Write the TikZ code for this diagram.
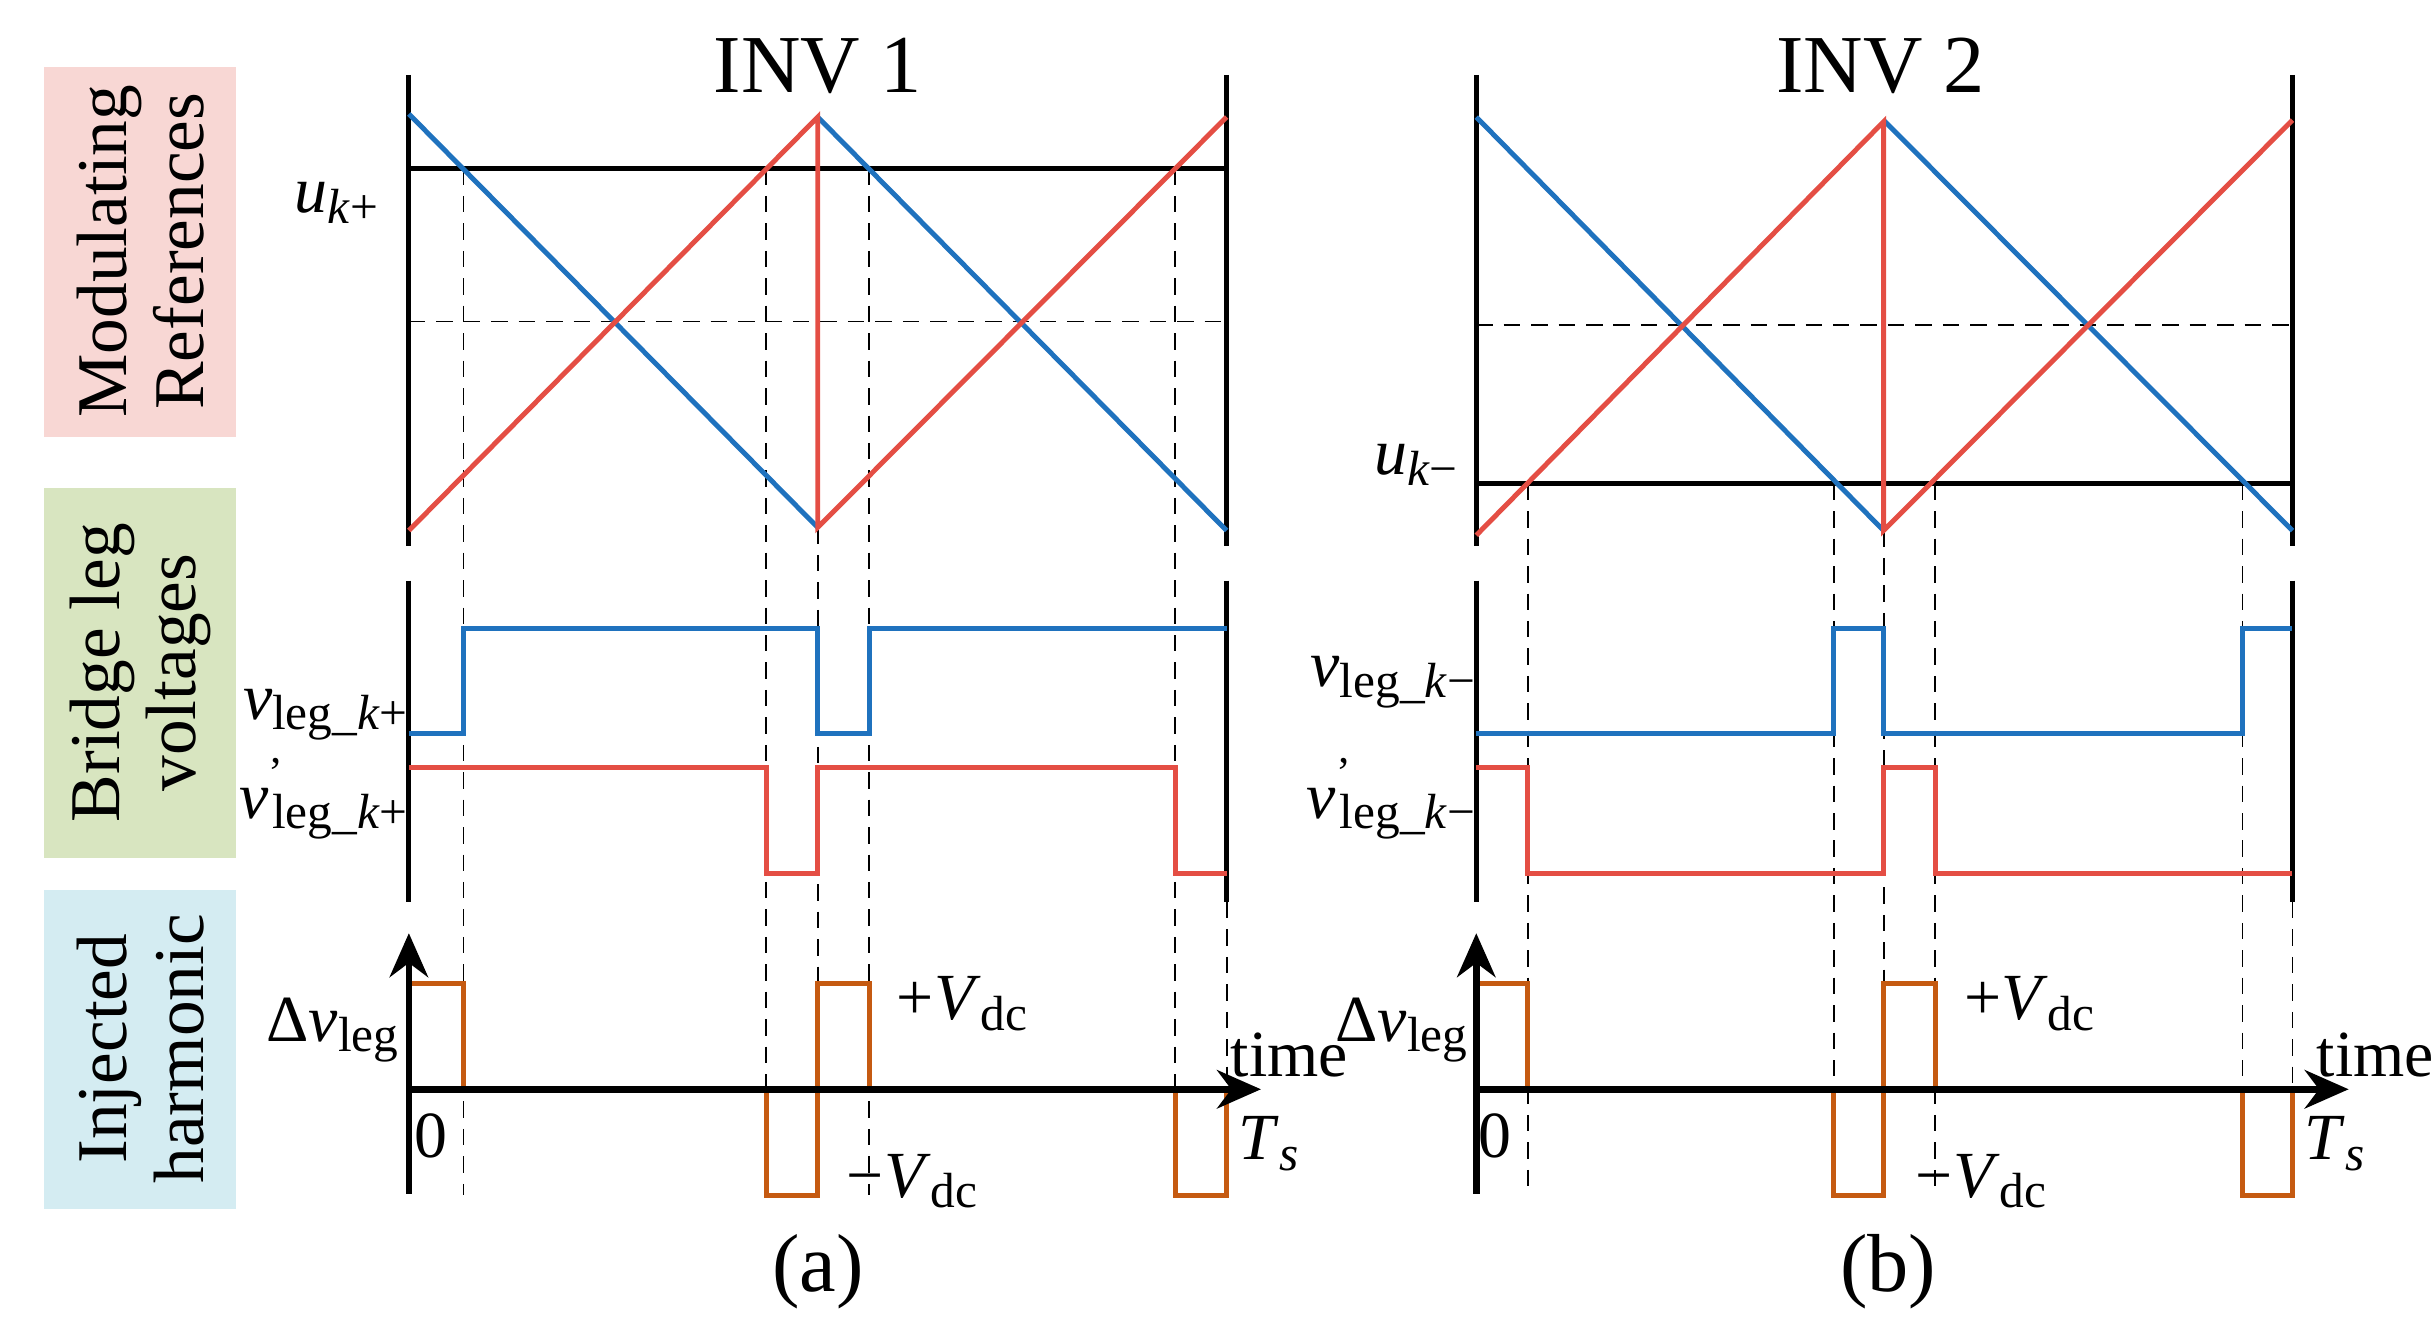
\documentclass[tikz,border=0pt]{standalone}
\usepackage{fontspec}
\setmainfont{Liberation Serif}
\usetikzlibrary{arrows.meta}
\definecolor{cb}{RGB}{31,114,190}
\definecolor{cr}{RGB}{228,78,68}
\definecolor{co}{RGB}{197,90,17}
\definecolor{pk}{RGB}{248,215,212}
\definecolor{gr}{RGB}{216,229,192}
\definecolor{bl}{RGB}{212,236,242}
\newcommand{\sbs}[1]{\raisebox{-0.35ex}{\fontsize{9}{9}\selectfont #1}}
\newcommand{\sps}[1]{\raisebox{1.0ex}{\fontsize{8}{8}\selectfont #1}}
\begin{document}
\begin{tikzpicture}[x=0.01cm,y=-0.01cm,
  w/.style={line width=0.9pt},
  blu/.style={w,cb}, red/.style={w,cr}, ora/.style={w,co},
  blk/.style={w,black},
  dsh/.style={densely dashed,line width=0.35pt},
  lab/.style={font=\fontsize{12}{12}\selectfont,inner sep=0pt},
  side/.style={font=\fontsize{13}{14}\selectfont,rotate=90,align=center,inner sep=0pt},
  ax/.style={line width=1.2pt,-{Stealth[length=8pt,width=7pt]}}]
\useasboundingbox (0,0) rectangle (1561,851);
% side boxes
\fill[pk] (28,43) rectangle (151,280);
\fill[gr] (28,313) rectangle (151,550);
\fill[bl] (28,570) rectangle (151,775);
\node[side] (s1) at (90,161) {Modulating\\References};
\node[side] (s2) at (90,431) {Bridge leg\\voltages};
\node[side] (s3) at (90,672) {Injected\\harmonic};
% titles
\node[lab,font=\fontsize{15}{15}\selectfont] (t1) at (524,42) {INV 1};
\node[lab,font=\fontsize{15}{15}\selectfont] (t2) at (1205,42) {INV 2};
\node[lab,font=\fontsize{15}{15}\selectfont] (ca) at (524,815) {(a)};
\node[lab,font=\fontsize{15}{15}\selectfont] (cbb) at (1210,815) {(b)};
% ===== panel a =====
\foreach \x in {262,786}{\draw[blk] (\x,48)--(\x,350); \draw[blk] (\x,372)--(\x,578);}
\draw[dsh] (262,206)--(786,206);
\foreach \x in {297,491,557,753}{\draw[dsh] (\x,108)--(\x,766);}
\draw[dsh] (524,338)--(524,766);
\draw[dsh] (786,578)--(786,766);
\draw[blk] (262,108)--(786,108);
\draw[blu] (262,73)--(524,338);
\draw[blu] (524,75)--(786,340);
\draw[red] (262,340)--(524,75)--(524,338)--(786,75);
\draw[blu] (262,470)--(297,470)--(297,403)--(524,403)--(524,470)--(557,470)--(557,403)--(786,403);
\draw[red] (262,492)--(491,492)--(491,560)--(524,560)--(524,492)--(753,492)--(753,560)--(786,560);
\draw[ora] (262,630)--(297,630)--(297,698)--(491,698)--(491,766)--(524,766)--(524,630)--(557,630)--(557,698)--(753,698)--(753,766)--(786,766)--(786,698);
\draw[ax] (262,765)--(262,598);
\draw[ax] (262,698)--(808,698);
\node[lab,anchor=west] (uk1) at (188,130) {\textit{u}\sbs{\textit{k}+}};
\node[lab,anchor=east] (vl1) at (262,458) {\textit{v}\sbs{leg\_\textit{k}+}};
\node[lab,anchor=east] (vp1) at (262,512) {\textit{v}\sps{'}\hspace{-2pt}\sbs{leg\_\textit{k}+}};
\node[lab,anchor=east] (dv1) at (256,660) {Δ\textit{v}\sbs{leg}};
\node[lab,anchor=west] (pv1) at (574,643) {+\textit{V}\sbs{dc}};
\node[lab,anchor=west] (mv1) at (542,757) {−\textit{V}\sbs{dc}};
\node[lab,anchor=west] (tm1) at (788,676) {time};
\node[lab] (z1) at (276,728) {0};
\node[lab,anchor=west] (ts1) at (793,733) {\textit{T}\sbs{\textit{s}}};
% ===== panel b =====
\foreach \x in {946,1469}{\draw[blk] (\x,48)--(\x,350); \draw[blk] (\x,372)--(\x,578);}
\draw[dsh] (946,208)--(1469,208);
\foreach \x in {979,1175,1240,1437}{\draw[dsh] (\x,310)--(\x,766);}
\draw[dsh] (1207,340)--(1207,766);
\draw[dsh] (1469,578)--(1469,766);
\draw[blk] (946,310)--(1469,310);
\draw[blu] (946,75)--(1207,340);
\draw[blu] (1207,77)--(1469,340);
\draw[red] (946,343)--(1207,78)--(1207,340)--(1469,77);
\draw[blu] (946,470)--(1175,470)--(1175,403)--(1207,403)--(1207,470)--(1437,470)--(1437,403)--(1469,403);
\draw[red] (946,492)--(979,492)--(979,560)--(1207,560)--(1207,492)--(1240,492)--(1240,560)--(1469,560);
\draw[ora] (946,630)--(979,630)--(979,698)--(1175,698)--(1175,766)--(1207,766)--(1207,630)--(1240,630)--(1240,698)--(1437,698)--(1437,766)--(1469,766)--(1469,698);
\draw[ax] (946,765)--(946,598);
\draw[ax] (946,698)--(1505,698);
\node[lab,anchor=west] (uk2) at (880,298) {\textit{u}\sbs{\textit{k}−}};
\node[lab,anchor=east] (vl2) at (946,437) {\textit{v}\sbs{leg\_\textit{k}−}};
\node[lab,anchor=east] (vp2) at (946,512) {\textit{v}\sps{'}\hspace{-2pt}\sbs{leg\_\textit{k}−}};
\node[lab,anchor=east] (dv2) at (941,660) {Δ\textit{v}\sbs{leg}};
\node[lab,anchor=west] (pv2) at (1258,643) {+\textit{V}\sbs{dc}};
\node[lab,anchor=west] (mv2) at (1227,757) {−\textit{V}\sbs{dc}};
\node[lab,anchor=west] (tm2) at (1484,676) {time};
\node[lab] (z2) at (958,728) {0};
\node[lab,anchor=west] (ts2) at (1476,733) {\textit{T}\sbs{\textit{s}}};
\end{tikzpicture}
\end{document}
